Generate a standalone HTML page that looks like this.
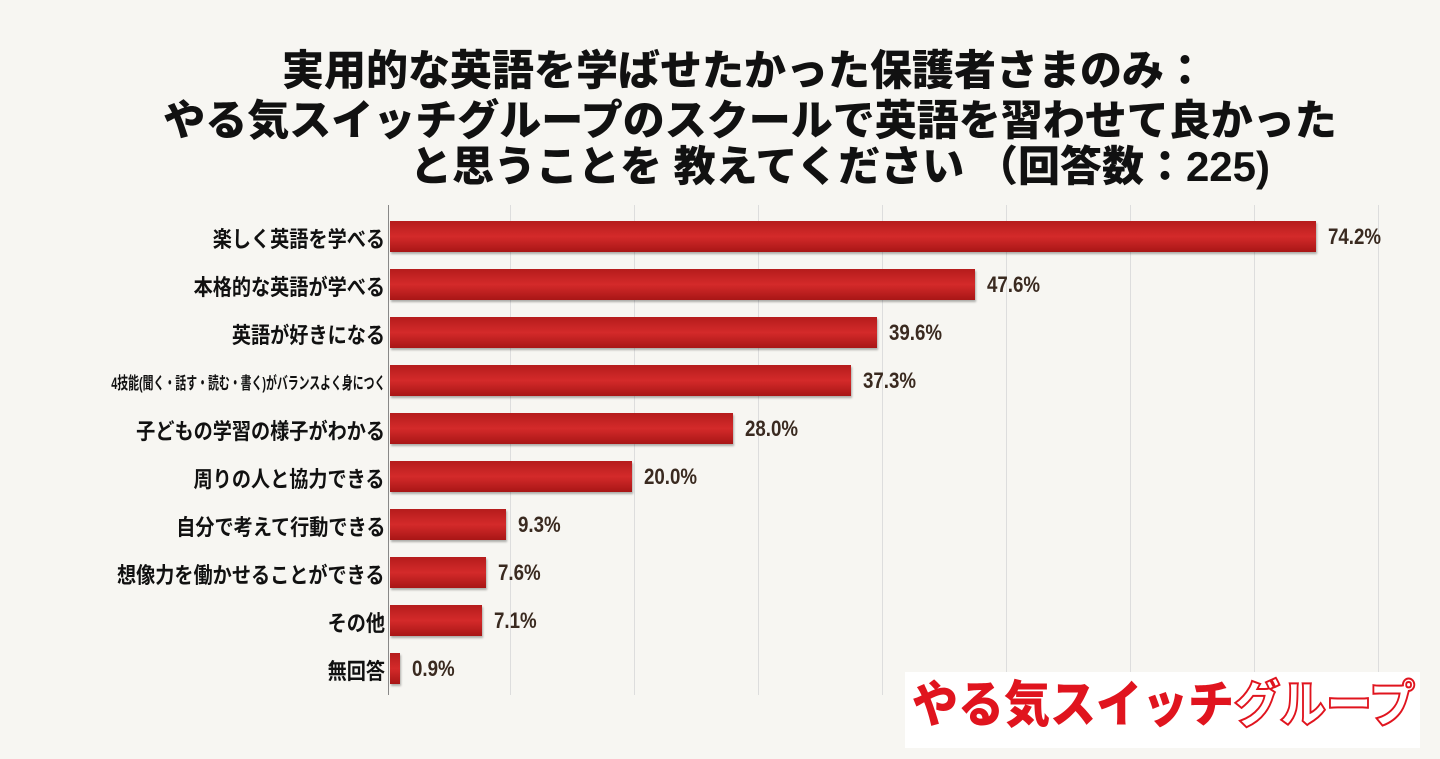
<!DOCTYPE html>
<html><head><meta charset="utf-8"><style>
body{margin:0;width:1440px;height:759px;background:#f7f6f2;overflow:hidden;position:relative;font-family:"Liberation Sans","Noto Sans CJK JP",sans-serif}
.t{position:absolute;left:0;width:1440px;text-align:center;font-weight:900;font-size:42px;color:#111;white-space:nowrap;line-height:1}
.g{position:absolute;top:205px;height:490px;width:1px;background:#ddd}
.bar{position:absolute;left:390px;height:31px;background:linear-gradient(180deg,#b51c1c,#d42a2a 50%,#a81616);box-shadow:1px 2px 2px rgba(0,0,0,.3)}
.lab{position:absolute;right:1055px;font-size:22px;font-weight:bold;color:#111;white-space:nowrap;transform:scaleX(.87);transform-origin:right}
.val{position:absolute;font-size:22px;font-weight:bold;color:#3a2a20;transform:scaleX(.85);transform-origin:left}
</style></head><body>
<div class="t" style="top:50px;left:24px">実用的な英語を学ばせたかった保護者さまのみ：</div>
<div class="t" style="top:100px;left:30px">やる気スイッチグループのスクールで英語を習わせて良かった</div>
<div class="t" style="top:146px;left:120px">と思うことを 教えてください （回答数：225)</div>
<div class="g" style="left:388px;background:#888"></div>
<div class="g" style="left:510px"></div><div class="g" style="left:634px"></div><div class="g" style="left:758px"></div><div class="g" style="left:882px"></div><div class="g" style="left:1006px"></div><div class="g" style="left:1130px"></div><div class="g" style="left:1254px"></div><div class="g" style="left:1378px"></div>

<div class="bar" style="top:221px;width:926px"></div><div class="lab" style="top:222px">楽しく英語を学べる</div><div class="val" style="top:224px;left:1328px">74.2%</div>
<div class="bar" style="top:269px;width:585px"></div><div class="lab" style="top:270px">本格的な英語が学べる</div><div class="val" style="top:272px;left:987px">47.6%</div>
<div class="bar" style="top:317px;width:487px"></div><div class="lab" style="top:318px">英語が好きになる</div><div class="val" style="top:320px;left:889px">39.6%</div>
<div class="bar" style="top:365px;width:461px"></div><div class="lab" style="top:369px;font-size:17px;transform:scaleX(.64)">4技能(聞く・話す・読む・書く)がバランスよく身につく</div><div class="val" style="top:368px;left:863px">37.3%</div>
<div class="bar" style="top:413px;width:343px"></div><div class="lab" style="top:414px">子どもの学習の様子がわかる</div><div class="val" style="top:416px;left:745px">28.0%</div>
<div class="bar" style="top:461px;width:242px"></div><div class="lab" style="top:462px">周りの人と協力できる</div><div class="val" style="top:464px;left:644px">20.0%</div>
<div class="bar" style="top:509px;width:116px"></div><div class="lab" style="top:510px">自分で考えて行動できる</div><div class="val" style="top:512px;left:518px">9.3%</div>
<div class="bar" style="top:557px;width:96px"></div><div class="lab" style="top:558px">想像力を働かせることができる</div><div class="val" style="top:560px;left:498px">7.6%</div>
<div class="bar" style="top:605px;width:92px"></div><div class="lab" style="top:606px">その他</div><div class="val" style="top:608px;left:494px">7.1%</div>
<div class="bar" style="top:653px;width:10px"></div><div class="lab" style="top:654px">無回答</div><div class="val" style="top:656px;left:412px">0.9%</div>

<div style="position:absolute;left:905px;top:672px;width:515px;height:76px;background:#fff"></div>
<div style="position:absolute;left:912px;top:680px;font-size:50px;line-height:1;font-weight:900;color:#e0141e;white-space:nowrap;transform:scaleX(.92);transform-origin:left">やる気スイッチ<span style="color:#fff;-webkit-text-stroke:2px #e0141e">グループ</span></div>
</body></html>
